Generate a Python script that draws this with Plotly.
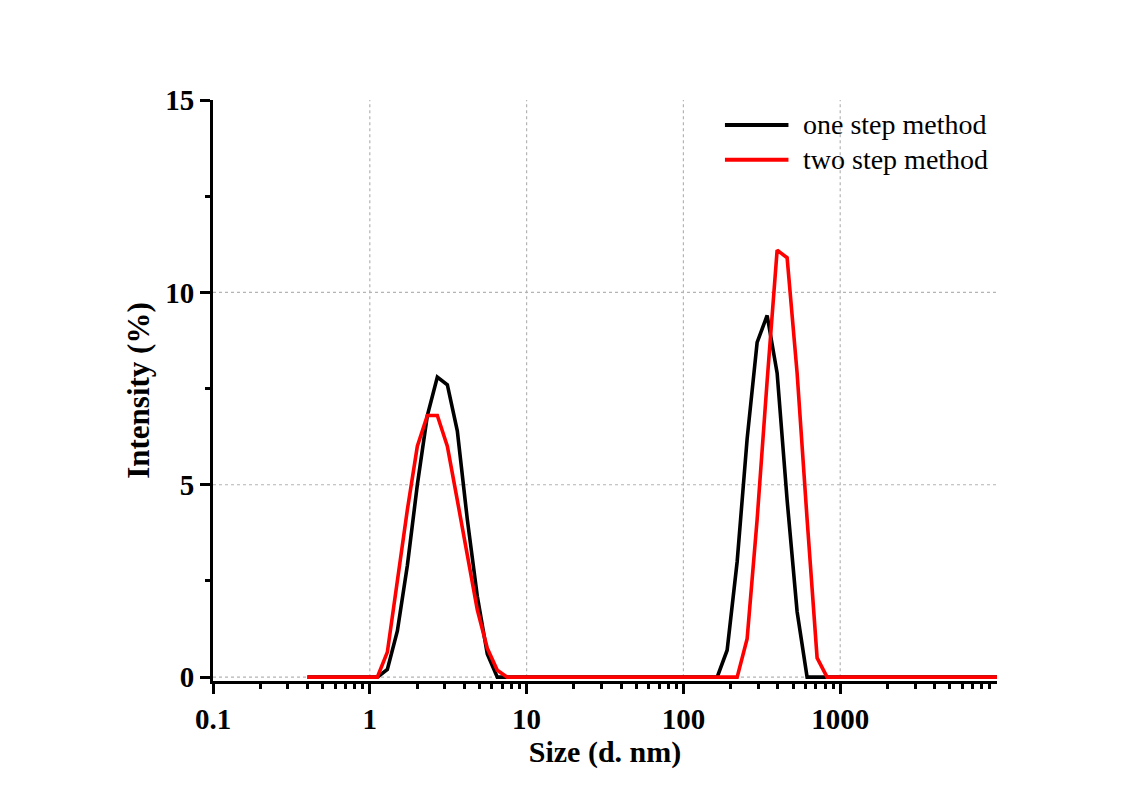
import plotly.graph_objects as go

# Particle size bins (d. nm) of the DLS size distribution
size_nm = [
    0.4, 0.4632, 0.5365, 0.6213, 0.7195, 0.8332, 0.9649, 1.117, 1.294, 1.499,
    1.736, 2.010, 2.328, 2.696, 3.122, 3.615, 4.187, 4.849, 5.615, 6.503,
    7.531, 8.721, 10.10, 11.70, 13.54, 15.69, 18.17, 21.04, 24.36, 28.21,
    32.67, 37.84, 43.82, 50.75, 58.77, 68.06, 78.82, 91.28, 105.7, 122.4,
    141.8, 164.2, 190.1, 220.2, 255.0, 295.3, 342.0, 396.1, 458.7, 531.2,
    615.1, 712.4, 825.0, 955.4, 1106, 1281, 1484, 1718, 1990, 2305,
    2669, 3091, 3580, 4145, 4801, 5560, 6439, 7456, 8635, 10000,
]

# Intensity (%) per bin
one_step = [
    0, 0, 0, 0, 0, 0, 0, 0, 0.2, 1.2,
    2.9, 5.0, 6.8, 7.8, 7.6, 6.4, 4.1, 2.1, 0.6, 0,
    0, 0, 0, 0, 0, 0, 0, 0, 0, 0,
    0, 0, 0, 0, 0, 0, 0, 0, 0, 0,
    0, 0, 0.7, 3.0, 6.2, 8.7, 9.4, 7.9, 4.6, 1.7,
    0, 0, 0, 0, 0, 0, 0, 0, 0, 0,
    0, 0, 0, 0, 0, 0, 0, 0, 0, 0,
]
two_step = [
    0, 0, 0, 0, 0, 0, 0, 0, 0.65, 2.55,
    4.35, 6.0, 6.8, 6.8, 6.0, 4.6, 3.2, 1.75, 0.75, 0.18,
    0, 0, 0, 0, 0, 0, 0, 0, 0, 0,
    0, 0, 0, 0, 0, 0, 0, 0, 0, 0,
    0, 0, 0, 0, 1.0, 4.1, 7.7, 11.1, 10.9, 7.9,
    4.1, 0.5, 0, 0, 0, 0, 0, 0, 0, 0,
    0, 0, 0, 0, 0, 0, 0, 0, 0, 0,
]

series_names = ["one step method", "two step method"]
series_colors = ["#000000", "#ff0000"]

x_major = [0.1, 1, 10, 100, 1000]
x_major_text = ["0.1", "1", "10", "100", "1000"]
x_minor = [m * 10.0 ** e for e in range(-1, 4) for m in range(2, 10)]
x_grid = [1, 10, 100, 1000]

y_major = [0, 5, 10, 15]
y_minor = [2.5, 7.5, 12.5]
y_grid = [0, 5, 10]

FONT = "Liberation Serif, Times New Roman, serif"

fig = go.Figure()
for name, ys, color in zip(series_names, [one_step, two_step], series_colors):
    fig.add_trace(go.Scatter(
        x=size_nm, y=ys, mode="lines", name=name,
        line=dict(color=color, width=3.6), showlegend=False,
    ))

# dotted grid
grid_style = dict(color="#b4b4b4", width=1.2, dash="dot")
for gx in x_grid:
    fig.add_shape(type="line", xref="x", yref="y", x0=gx, x1=gx, y0=0, y1=15,
                  line=grid_style, layer="below")
for gy in y_grid:
    fig.add_shape(type="line", xref="paper", yref="y", x0=0, x1=1, y0=gy, y1=gy,
                  line=grid_style, layer="below")

# legend drawn as line samples plus labels
legend_rows = [0.957, 0.897]
for name, color, ly in zip(series_names, series_colors, legend_rows):
    fig.add_shape(type="line", xref="paper", yref="paper", x0=0.653, x1=0.734,
                  y0=ly, y1=ly, line=dict(color=color, width=4))
    fig.add_annotation(xref="paper", yref="paper", x=0.750, y=ly, text=name,
                       showarrow=False, xanchor="left", yanchor="middle",
                       font=dict(family=FONT, size=28, color="black"))

axis_common = dict(
    showline=True, linecolor="black", linewidth=3, mirror=False,
    ticks="outside", ticklen=10, tickwidth=3, tickcolor="black",
    showgrid=False, zeroline=False,
    tickfont=dict(family=FONT, size=29, color="black", weight="bold"),
)

fig.update_xaxes(
    type="log", range=[-1, 4], tickmode="array", tickvals=x_major,
    ticktext=x_major_text,
    minor=dict(tickmode="array", tickvals=x_minor, ticks="outside", ticklen=5,
               tickwidth=2.5, tickcolor="black", showgrid=False),
    title=dict(text="Size (d. nm)", standoff=8,
               font=dict(family=FONT, size=30, color="black", weight="bold")),
    **axis_common,
)
fig.update_yaxes(
    range=[-0.1, 15], tickmode="array", tickvals=y_major,
    minor=dict(tickmode="array", tickvals=y_minor, ticks="outside", ticklen=5,
               tickwidth=3, tickcolor="black", showgrid=False),
    title=dict(text="Intensity (%)", standoff=7,
               font=dict(family=FONT, size=31, color="black", weight="bold")),
    **axis_common,
)

fig.update_layout(
    width=1144, height=806,
    margin=dict(l=213, r=147, t=100, b=125),
    paper_bgcolor="white", plot_bgcolor="white",
)

fig.write_html("out.html")
